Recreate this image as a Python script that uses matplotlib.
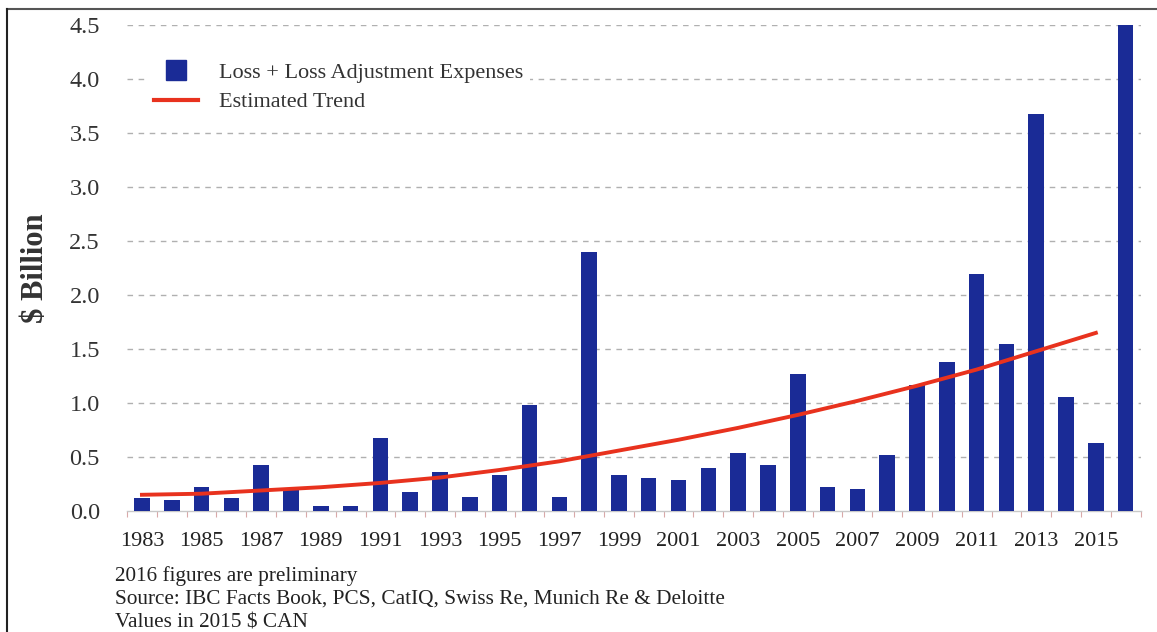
import matplotlib
matplotlib.use("Agg")
import matplotlib.pyplot as plt
from matplotlib.lines import Line2D
from matplotlib.ticker import MultipleLocator, FixedLocator

years = list(range(1983, 2017))
losses = [0.12, 0.10, 0.22, 0.12, 0.43, 0.21, 0.05, 0.05, 0.68, 0.18,
          0.36, 0.13, 0.33, 0.98, 0.13, 2.40, 0.33, 0.31, 0.29, 0.40,
          0.54, 0.43, 1.27, 0.22, 0.20, 0.52, 1.17, 1.38, 2.20, 1.55,
          3.68, 1.06, 0.63, 4.50]
trend_years = [1983, 1985, 1987, 1989, 1991, 1993, 1995, 1997, 1999,
               2001, 2003, 2005, 2007, 2009, 2011, 2013, 2015]
trend_vals = [0.15, 0.16, 0.19, 0.22, 0.26, 0.31, 0.38, 0.46, 0.56,
              0.66, 0.77, 0.89, 1.02, 1.16, 1.31, 1.48, 1.65]
xtick_labels = [str(y) for y in range(1983, 2016, 2)]
notes = ["2016 figures are preliminary",
         "Source: IBC Facts Book, PCS, CatIQ, Swiss Re, Munich Re & Deloitte",
         "Values in 2015 $ CAN"]

plt.rcParams['font.family'] = ['Liberation Serif', 'DejaVu Serif']

fig = plt.figure(figsize=(11.57, 6.32), dpi=100)
ax = fig.add_axes([0.1098, 0.1915, 0.876, 0.7685])

bar_color = '#1a2b96'
red = '#e8321e'
ax.bar(years, losses, width=0.52, color=bar_color, zorder=3, label='Loss + Loss Adjustment Expenses')
ax.plot(trend_years, trend_vals, color=red, lw=2.8, zorder=4, label='Estimated Trend')

ax.set_xlim(1982.5, 2016.5)
ax.set_ylim(0, 4.5)
ax.yaxis.set_major_locator(MultipleLocator(0.5))
ax.set_yticklabels([f"{v:.1f}" for v in ax.get_yticks()])
ax.tick_params(axis='y', length=0, pad=19.5, labelsize=17.5, labelcolor='#333333')
ax.set_xticks(list(range(1983, 2016, 2)))
ax.set_xticklabels(xtick_labels)
ax.tick_params(axis='x', which='major', length=0, pad=15, labelsize=16, labelcolor='#222222')
ax.xaxis.set_minor_locator(FixedLocator([y + 0.5 for y in range(1982, 2017)]))
ax.tick_params(axis='x', which='minor', length=4, color='#d9a9a9', width=0.8)

for v in [0.5, 1.0, 1.5, 2.0, 2.5, 3.0, 3.5, 4.0, 4.5]:
    ax.axhline(v, color='#b0b0b0', lw=1.0, ls=(0, (4, 4)), zorder=1)

for s in ['top', 'right', 'left']:
    ax.spines[s].set_visible(False)
ax.spines['bottom'].set_color('#c8c8c8')
ax.spines['bottom'].set_linewidth(1.0)

ax.set_ylabel('$ Billion', fontsize=22, fontweight='bold', color='#333333', labelpad=14)

handles = [Line2D([0], [0], marker='s', color='none', markerfacecolor=bar_color,
                  markeredgecolor=bar_color, markersize=14),
           Line2D([0], [0], color=red, lw=3)]
leg = ax.legend(handles, ['Loss + Loss Adjustment Expenses', 'Estimated Trend'],
                loc='upper left', bbox_to_anchor=(0.009, 0.96), fontsize=16,
                frameon=True, facecolor='white', edgecolor='none', framealpha=1,
                handlelength=2.0, handletextpad=0.95, labelspacing=0.4, borderpad=0.3)
for t in leg.get_texts():
    t.set_color('#333333')
leg.set_zorder(5)

for i, n in enumerate(notes):
    fig.text(115 / 1157, 1 - (576 + i * 23.5) / 632, n, fontsize=15.3, color='#222222',
             va='center', ha='left')

fig.add_artist(Line2D([7 / 1157, 1], [1 - 9 / 632, 1 - 9 / 632], transform=fig.transFigure,
                      color='#555555', lw=1.5))
fig.add_artist(Line2D([7 / 1157, 7 / 1157], [0, 1 - 9 / 632], transform=fig.transFigure,
                      color='#222222', lw=1.5))

fig.savefig('out.png', dpi=100)
